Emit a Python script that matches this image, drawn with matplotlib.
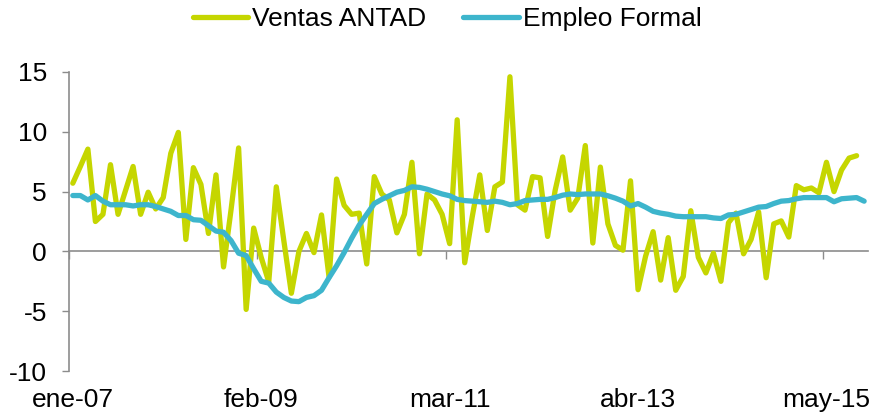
import matplotlib
matplotlib.use("Agg")
import matplotlib.pyplot as plt
import numpy as np

plt.rcParams["font.family"] = ["Liberation Sans", "DejaVu Sans"]
plt.rcParams["axes.unicode_minus"] = False

# monthly series, ene-07 onwards
ventas_antad = [5.7, 7.1, 8.55, 2.5, 3.1, 7.25, 3.1, 5.1, 7.1, 3.1,
                4.95, 3.55, 4.5, 8.2, 9.95, 1.0, 7.0, 5.6, 1.5, 6.4,
                -1.3, 3.5, 8.65, -4.85, 1.95, -0.5, -2.55, 5.4, 0.9, -3.5,
                0.0, 1.5, -0.1, 3.05, -2.15, 6.05, 3.85, 3.1, 3.2, -1.05,
                6.25, 4.8, 4.3, 1.55, 3.1, 7.45, -0.2, 4.8, 4.3, 3.1,
                0.65, 11.0, -0.95, 2.9, 6.4, 1.75, 5.4, 5.8, 14.6, 3.9,
                3.45, 6.25, 6.15, 1.25, 5.1, 7.9, 3.45, 4.45, 8.85, 0.7,
                7.05, 2.3, 0.5, 0.1, 5.9, -3.2, -0.4, 1.65, -2.4, 1.15,
                -3.25, -2.1, 3.4, -0.5, -1.8, -0.15, -2.5, 2.4, 3.2, -0.2,
                1.0, 3.3, -2.2, 2.3, 2.55, 1.2, 5.5, 5.15, 5.3, 4.9,
                7.45, 5.0, 6.8, 7.8, 8.0]
empleo_formal = [4.67, 4.67, 4.3, 4.67, 4.2, 3.9, 3.9, 3.9, 3.8, 3.9,
                 3.9, 3.75, 3.55, 3.35, 3.0, 3.0, 2.65, 2.6, 2.15, 1.7,
                 1.6, 0.9, -0.15, -0.35, -1.45, -2.5, -2.65, -3.4, -3.85, -4.15,
                 -4.2, -3.85, -3.7, -3.25, -2.2, -1.2, -0.1, 1.1, 2.2, 3.1,
                 4.0, 4.35, 4.65, 4.95, 5.1, 5.4, 5.35, 5.2, 5.0, 4.8,
                 4.65, 4.35, 4.25, 4.2, 4.15, 4.1, 4.2, 4.1, 3.9, 4.0,
                 4.25, 4.3, 4.35, 4.35, 4.5, 4.7, 4.8, 4.75, 4.8, 4.8,
                 4.8, 4.65, 4.45, 4.2, 3.8, 4.0, 3.7, 3.35, 3.2, 3.1,
                 2.95, 2.9, 2.9, 2.9, 2.9, 2.8, 2.75, 3.05, 3.1, 3.3,
                 3.5, 3.7, 3.75, 4.0, 4.2, 4.25, 4.4, 4.5, 4.5, 4.5,
                 4.5, 4.15, 4.4, 4.45, 4.5, 4.2]
tick_pos = [0, 25, 50, 75, 100]
tick_labels = ["ene-07", "feb-09", "mar-11", "abr-13", "may-15"]
n_months = 106

GREEN = "#C5D600"
BLUE = "#3DB5CC"
GREY = "#8C8C8C"

fig = plt.figure(figsize=(8.75, 4.18), dpi=100)
ax = fig.add_axes([0.0789, 0.1124, 0.913, 0.7154])

x_v = np.arange(len(ventas_antad)) + 0.5
x_e = np.arange(len(empleo_formal)) + 0.5
ax.plot(x_v, ventas_antad, color=GREEN, lw=3.8, solid_joinstyle="round",
        solid_capstyle="round", label="Ventas ANTAD", zorder=3)
ax.plot(x_e, empleo_formal, color=BLUE, lw=3.8, solid_joinstyle="round",
        solid_capstyle="round", label="Empleo Formal", zorder=4)

ax.set_xlim(0, n_months)
ax.set_ylim(-10, 15)
ax.set_yticks([-10, -5, 0, 5, 10, 15])
ax.tick_params(axis="y", direction="out", length=5, width=1, color=GREY,
               labelsize=19, pad=11)

for s in ["top", "right"]:
    ax.spines[s].set_visible(False)
ax.spines["left"].set_color(GREY)
ax.spines["left"].set_linewidth(1.2)
ax.spines["bottom"].set_position(("data", 0))
ax.spines["bottom"].set_color(GREY)
ax.spines["bottom"].set_linewidth(1.2)
ax.set_xticks(tick_pos)
ax.tick_params(axis="x", direction="out", length=5.5, width=1, color=GREY,
               labelbottom=False)

# category labels sit at the bottom, centred on their month
sec = ax.secondary_xaxis("bottom")
sec.spines["bottom"].set_visible(False)
sec.set_xticks([p + 0.5 for p in tick_pos])
sec.set_xticklabels(tick_labels)
sec.tick_params(axis="x", length=0, labelsize=19, pad=12)

fig.legend(loc="center", bbox_to_anchor=(0.511, 0.955), ncol=2, frameon=False,
           fontsize=19, handlelength=2.1, handletextpad=0.15,
           columnspacing=1.4)

fig.savefig("out.png", dpi=100)
